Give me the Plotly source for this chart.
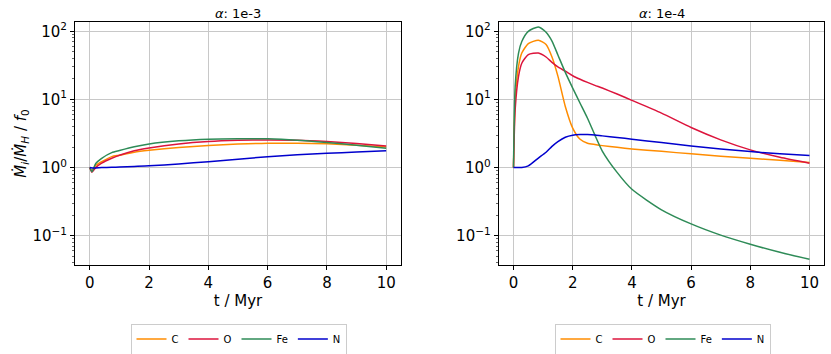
import plotly.graph_objects as go

# ---- data: alpha = 1e-3 (left panel) ----
t_a3 = [0.0, 0.07, 0.2, 0.4, 0.74, 1.0, 1.5, 2.0, 3.0, 4.0, 5.0, 6.0, 7.0, 8.0, 9.0, 10.0]
C_a3 = [1.0, 0.90, 1.08, 1.22, 1.45, 1.52, 1.68, 1.79, 1.97, 2.11, 2.21, 2.28, 2.28, 2.23, 2.13, 2.01]
O_a3 = [1.0, 0.855, 1.0, 1.16, 1.37, 1.52, 1.77, 1.94, 2.22, 2.41, 2.51, 2.55, 2.52, 2.41, 2.26, 2.08]
Fe_a3 = [1.0, 0.87, 1.15, 1.37, 1.66, 1.78, 2.02, 2.22, 2.47, 2.61, 2.65, 2.64, 2.52, 2.33, 2.13, 1.92]
N_a3 = [1.0, 0.99, 0.99, 1.0, 1.01, 1.02, 1.04, 1.06, 1.13, 1.22, 1.33, 1.44, 1.54, 1.62, 1.69, 1.76]

# ---- data: alpha = 1e-4 (right panel) ----
t_a4 = [0.0, 0.056, 0.17, 0.28, 0.5, 0.84, 1.1, 1.3, 1.5, 1.75, 2.0, 2.25, 2.5, 2.75, 3.0,
        3.5, 4.0, 5.0, 6.0, 7.0, 8.0, 9.0, 10.0]
C_a4 = [1.0, 10, 30.6, 48, 66, 74, 64, 42, 22, 7.9, 3.8, 2.6, 2.28, 2.18, 2.1,
        1.98, 1.88, 1.73, 1.59, 1.47, 1.37, 1.28, 1.19]
O_a4 = [1.0, 7.1, 21.8, 34, 45.5, 48, 42, 35, 30, 26, 22.3, 19.8, 17.8, 16.1, 14.7,
        12.0, 9.7, 6.3, 3.87, 2.55, 1.82, 1.42, 1.16]
Fe_a4 = [1.0, 15.5, 48, 71, 100, 116, 97, 72, 45, 25, 14.7, 8.8, 5.3, 3.0, 1.75,
         0.85, 0.48, 0.24, 0.149, 0.102, 0.075, 0.057, 0.045]
N_a4 = [1.0, 1.0, 1.0, 1.0, 1.06, 1.38, 1.68, 2.05, 2.41, 2.79, 2.99, 3.05, 3.06, 3.02, 2.92,
        2.77, 2.61, 2.33, 2.08, 1.88, 1.72, 1.59, 1.50]

species = ["C", "O", "Fe", "N"]
colors = {"C": "#FF8C00", "O": "#DC143C", "Fe": "#2E8B57", "N": "#0000CD"}
panel_titles = ["<i>α</i>: 1e-3", "<i>α</i>: 1e-4"]
ytick_vals = [0.1, 1, 10, 100]
ytick_text = ["10<sup>−1</sup>", "10<sup>0</sup>", "10<sup>1</sup>", "10<sup>2</sup>"]
xtick_vals = [0, 2, 4, 6, 8, 10]

data_a3 = {"C": C_a3, "O": O_a3, "Fe": Fe_a3, "N": N_a3}
data_a4 = {"C": C_a4, "O": O_a4, "Fe": Fe_a4, "N": N_a4}

FONT = "DejaVu Sans"
W, H = 831, 354

fig = go.Figure()
for s in species:
    fig.add_trace(go.Scatter(x=t_a3, y=data_a3[s], mode="lines", name=s,
                             line=dict(color=colors[s], width=1.5, shape="spline", smoothing=0.6),
                             xaxis="x", yaxis="y", legend="legend"))
for s in species:
    fig.add_trace(go.Scatter(x=t_a4, y=data_a4[s], mode="lines", name=s,
                             line=dict(color=colors[s], width=1.5, shape="spline", smoothing=0.6),
                             xaxis="x2", yaxis="y2", legend="legend2"))

yrange = [-1.43, 2.137]
common_x = dict(range=[-0.5, 10.5], tickvals=xtick_vals, showline=True, linecolor="black",
                linewidth=1, mirror=True, ticks="outside", ticklen=4, tickcolor="black",
                showgrid=True, gridcolor="#c8c8c8", gridwidth=1, zeroline=False, automargin=False,
                tickfont=dict(family=FONT, size=15, color="black"),
                title=dict(text="t / Myr", font=dict(family=FONT, size=15, color="black"), standoff=4))
common_y = dict(type="log", range=yrange, tickvals=ytick_vals, ticktext=ytick_text,
                showline=True, linecolor="black", linewidth=1, mirror=True,
                ticks="outside", ticklen=4, tickcolor="black", automargin=False,
                showgrid=True, gridcolor="#c8c8c8", gridwidth=1, zeroline=False,
                tickfont=dict(family=FONT, size=15, color="black"),
                minor=dict(ticks="outside", ticklen=2, tickcolor="#666", dtick="D1", showgrid=False))

xd1 = [75 / W, 401 / W]
xd2 = [498.7 / W, 824.3 / W]
yd = [1 - 265 / H, 1 - 22 / H]

fig.update_layout(
    width=W, height=H, margin=dict(l=0, r=0, t=0, b=0, autoexpand=False),
    paper_bgcolor="white", plot_bgcolor="white",
    font=dict(family=FONT, color="black"),
    xaxis=dict(domain=xd1, anchor="y", **common_x),
    yaxis=dict(domain=yd, anchor="x",
               title=dict(text="<i>Ṁ</i><sub><i>i</i></sub>/<i>Ṁ</i><sub><i>H</i></sub> / <i>f</i><sub>0</sub>",
                          font=dict(family=FONT, size=15, color="black"), standoff=2),
               **common_y),
    xaxis2=dict(domain=xd2, anchor="y2", **common_x),
    yaxis2=dict(domain=yd, anchor="x2", **common_y),
    legend=dict(orientation="h", x=238.5 / W, y=1 - 339 / H, xanchor="center", yanchor="middle",
                bordercolor="#cccccc", borderwidth=1, bgcolor="white",
                font=dict(family=FONT, size=10, color="black"), itemwidth=30, tracegroupgap=0),
    legend2=dict(orientation="h", x=662.5 / W, y=1 - 339 / H, xanchor="center", yanchor="middle",
                 bordercolor="#cccccc", borderwidth=1, bgcolor="white",
                 font=dict(family=FONT, size=10, color="black"), itemwidth=30, tracegroupgap=0),
    annotations=[
        dict(text=panel_titles[0], x=(xd1[0] + xd1[1]) / 2, y=1 - 13 / H, xref="paper", yref="paper",
             showarrow=False, xanchor="center", yanchor="middle", font=dict(family=FONT, size=13, color="black")),
        dict(text=panel_titles[1], x=(xd2[0] + xd2[1]) / 2, y=1 - 13 / H, xref="paper", yref="paper",
             showarrow=False, xanchor="center", yanchor="middle", font=dict(family=FONT, size=13, color="black")),
    ],
)

fig.write_html("out.html", config={"displayModeBar": False},
               post_script="document.body.style.margin='0px';document.body.style.overflow='hidden';")
